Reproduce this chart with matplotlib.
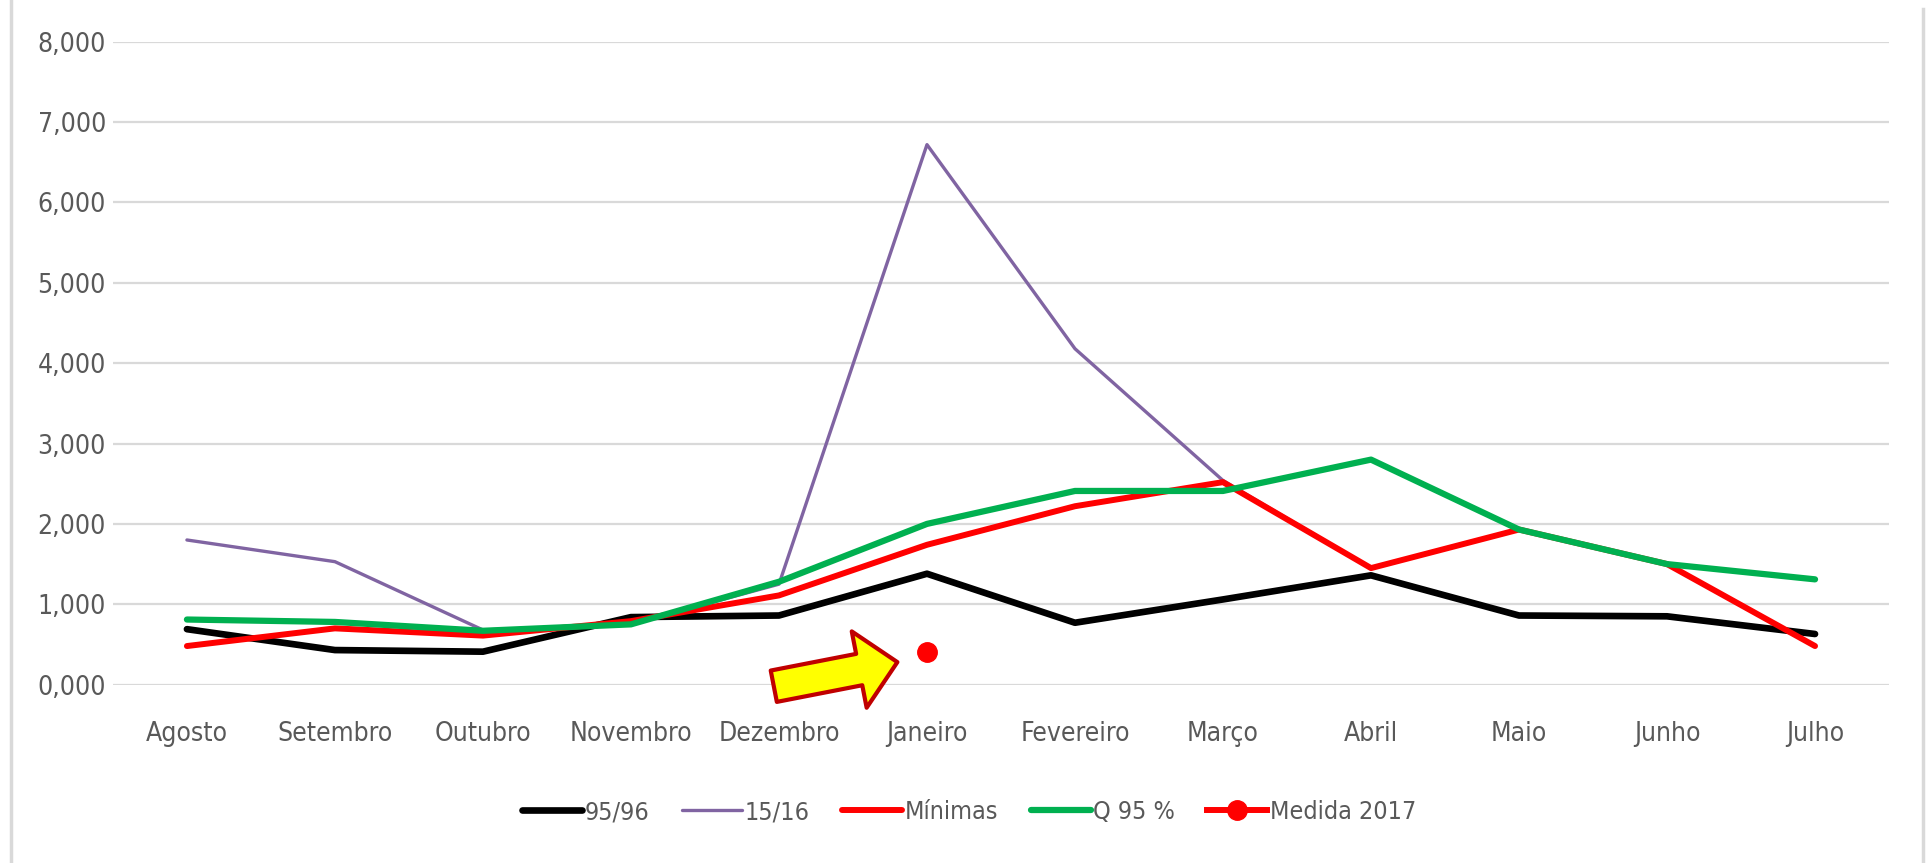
import numpy as np
import matplotlib
matplotlib.use("Agg")
import matplotlib.pyplot as plt
from matplotlib.lines import Line2D
from matplotlib.ticker import FuncFormatter

plt.rcParams['font.family'] = ['DejaVu Sans']
plt.rcParams['font.stretch'] = 'condensed'

meses = ["Agosto", "Setembro", "Outubro", "Novembro", "Dezembro", "Janeiro",
         "Fevereiro", "Março", "Abril", "Maio", "Junho", "Julho"]

s_9596 = [0.69, 0.43, 0.41, 0.84, 0.86, 1.38, 0.77, 1.06, 1.36, 0.86, 0.85, 0.63]
s_1516 = [1.80, 1.53, 0.68, 0.75, 1.25, 6.72, 4.18, 2.54, 1.45, 1.93, 1.50, 0.48]
minimas = [0.48, 0.70, 0.61, 0.79, 1.11, 1.74, 2.22, 2.52, 1.45, 1.93, 1.50, 0.48]
q95 = [0.81, 0.78, 0.67, 0.75, 1.28, 2.00, 2.41, 2.41, 2.80, 1.93, 1.50, 1.31]
medida_2017 = [np.nan, np.nan, np.nan, np.nan, np.nan, 0.40,
               np.nan, np.nan, np.nan, np.nan, np.nan, np.nan]

GRAY_TXT = '#595959'
GRID = '#D9D9D9'

fig = plt.figure(figsize=(19.27, 8.63), dpi=100)
ax = fig.add_axes([0.0586, 0.2067, 0.9217, 0.7449])

x = np.arange(len(meses))
ax.plot(x, s_1516, color='#8064A2', lw=2.4, label='15/16', zorder=3, solid_capstyle='round')
ax.plot(x, s_9596, color='black', lw=4.8, label='95/96', zorder=4, solid_capstyle='round')
ax.plot(x, minimas, color='#FF0000', lw=4.3, label='Mínimas', zorder=5, solid_capstyle='round')
ax.plot(x, q95, color='#00B050', lw=4.5, label='Q 95 %', zorder=6, solid_capstyle='round')
ax.plot(x, medida_2017, color='#FF0000', lw=4.3, marker='o', ms=14,
        label='Medida 2017', zorder=7)

# seta amarela apontando para a medida de 2017
ax.annotate('', xy=(4.80, 0.28), xytext=(3.965, -0.02),
            arrowprops=dict(arrowstyle='simple,head_length=2.8,head_width=5.6,tail_width=2.3',
                            mutation_scale=10, fc='#FFFF00', ec='#C00000', lw=3,
                            shrinkA=0, shrinkB=0),
            zorder=8)

ax.set_xlim(-0.5, len(meses) - 0.5)
ax.set_ylim(0, 8)
ax.set_yticks(np.arange(0, 9, 1))
ax.yaxis.set_major_formatter(FuncFormatter(lambda v, p: f"{v:.3f}".replace('.', ',')))
ax.set_xticks(x)
ax.set_xticklabels(meses)
ax.tick_params(axis='both', length=0, labelsize=19, colors=GRAY_TXT)
ax.tick_params(axis='y', pad=5)
ax.tick_params(axis='x', pad=26)
ax.grid(True, axis='y', color=GRID, lw=1.6)
ax.set_axisbelow(True)
for s in ax.spines.values():
    s.set_visible(False)

order = ['95/96', '15/16', 'Mínimas', 'Q 95 %', 'Medida 2017']
handles, labels = ax.get_legend_handles_labels()
hmap = dict(zip(labels, handles))
leg = fig.legend([hmap[k] for k in order], order, loc='center', bbox_to_anchor=(0.503, 0.059),
                 ncol=5, frameon=False, fontsize=18, handlelength=2.4, handletextpad=0.1,
                 columnspacing=1.3)
for t in leg.get_texts():
    t.set_color(GRAY_TXT)

# bordas laterais do grafico
fig.add_artist(Line2D([0.0055, 0.0055], [0, 1], color=GRID, lw=2.5))
fig.add_artist(Line2D([0.998, 0.998], [0, 0.99], color=GRID, lw=2.5))

fig.savefig('out.png', dpi=100)
